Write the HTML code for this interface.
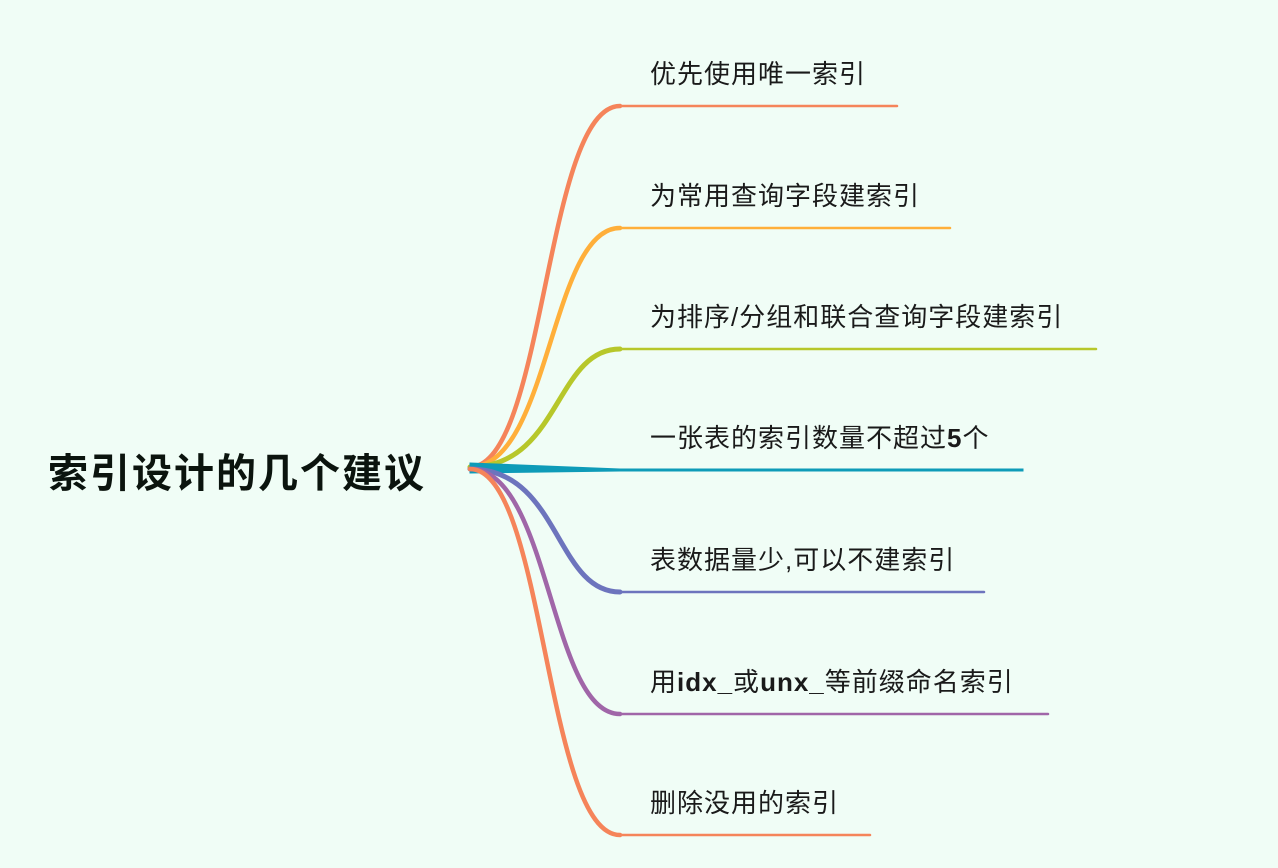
<!DOCTYPE html>
<html><head><meta charset="utf-8"><style>
html,body{margin:0;padding:0;background:#F0FDF6;width:1278px;height:868px;overflow:hidden}
svg{position:absolute;left:0;top:0}
.t{font-family:"Liberation Sans","Noto Sans CJK SC",sans-serif;font-size:26px;fill:#1a1a1a;letter-spacing:1px}
.r{font-family:"Liberation Sans","Noto Sans CJK SC",sans-serif;font-size:40px;font-weight:bold;fill:#0b140e;letter-spacing:2px}
</style></head><body>
<svg width="1278" height="868" viewBox="0 0 1278 868">
<text class="r" x="48" y="487">索引设计的几个建议</text>
<g fill="none" stroke-linecap="round">
<path d="M470,467 C545,467 545,106 620,106" stroke="#F5845A" stroke-width="4.5"/>
<path d="M620,106 L897,106" stroke="#F5845A" stroke-width="2.5"/>
<path d="M470,467 C550,467 550,228 620,228" stroke="#FFAF3A" stroke-width="4.5"/>
<path d="M620,228 L950,228" stroke="#FFAF3A" stroke-width="2.5"/>
<path d="M470,467 C560,467 555,349 620,349" stroke="#B7C72A" stroke-width="5"/>
<path d="M620,349 L1096,349" stroke="#B7C72A" stroke-width="2.5"/>
<path d="M470,463 L620,469 L1023,469 L1023,471 L620,471 L470,473 Z" fill="#0E9BB8" stroke="#0E9BB8" stroke-width="1"/>
<path d="M470,469 C560,469 555,592 620,592" stroke="#6D74BD" stroke-width="5"/>
<path d="M620,592 L984,592" stroke="#6D74BD" stroke-width="2.5"/>
<path d="M470,469 C550,469 550,714 620,714" stroke="#A066A8" stroke-width="4.5"/>
<path d="M620,714 L1048,714" stroke="#A066A8" stroke-width="2.5"/>
<path d="M470,469 C545,469 545,835 620,835" stroke="#F5845A" stroke-width="4.5"/>
<path d="M620,835 L870,835" stroke="#F5845A" stroke-width="2.5"/>
</g>
<text class="t" x="650" y="83">优先使用唯一索引</text>
<text class="t" x="650" y="205">为常用查询字段建索引</text>
<text class="t" x="650" y="326">为排序/分组和联合查询字段建索引</text>
<text class="t" x="650" y="447">一张表的索引数量不超过<tspan font-weight="bold">5</tspan>个</text>
<text class="t" x="650" y="569">表数据量少,可以不建索引</text>
<text class="t" x="650" y="691">用<tspan font-weight="bold">idx_</tspan>或<tspan font-weight="bold">unx_</tspan>等前缀命名索引</text>
<text class="t" x="650" y="812">删除没用的索引</text>
</svg>
</body></html>
